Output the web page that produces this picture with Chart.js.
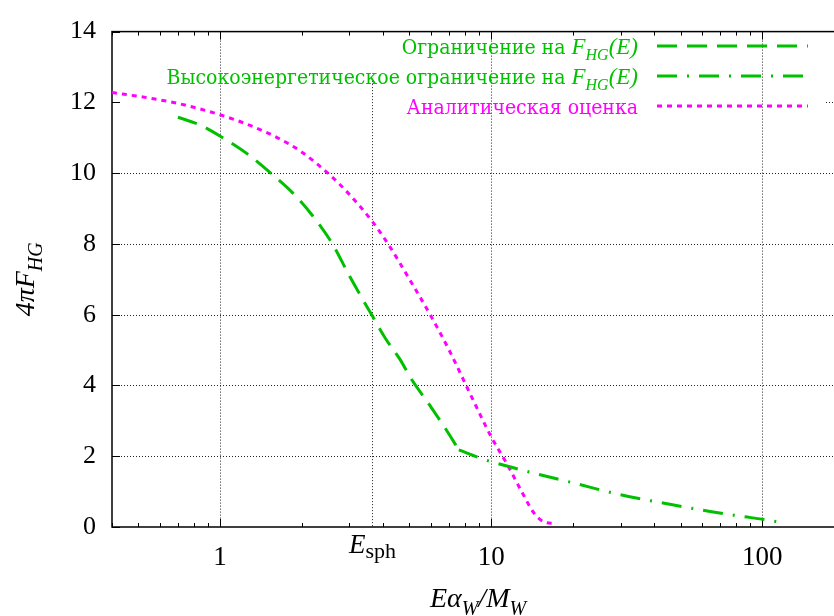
<!DOCTYPE html>
<html>
<head>
<meta charset="utf-8">
<script src="https://cdn.jsdelivr.net/npm/chart.js@4.4.1/dist/chart.umd.min.js"></script>
<style>
    html, body { margin: 0; padding: 0; overflow: hidden; background: #fff; }
    #chart { display: block; }
</style>
</head>
<body>
<canvas id="chart" width="846" height="616"></canvas>
<script>
// Ограничение на F_HG(E) (штрих)
var boundX = [0.7, 0.85, 1.0, 1.27, 1.55, 1.85, 2.2, 2.6, 3.0, 3.65, 4.1, 4.6, 5.1, 5.9, 6.8, 7.6];
var boundY = [11.58, 11.35, 11.05, 10.53, 9.98, 9.45, 8.79, 8.0, 7.1, 5.96, 5.3, 4.75, 4.16, 3.47, 2.77, 2.18];

// Высокоэнергетическое ограничение (штрих-пунктир)
var highX = [7.6, 9.4, 12, 14.7, 20, 30, 45, 65, 84, 100, 122];
var highY = [2.18, 1.91, 1.68, 1.50, 1.25, 0.91, 0.65, 0.43, 0.30, 0.22, 0.11];

// Аналитическая оценка (пунктир)
var anaX = [0.4, 0.55, 0.7, 1.0, 1.3, 1.65, 2.0, 2.6, 3.0, 3.65, 4.2, 5.0, 6.0, 7.0, 8.1, 9.0, 10, 11.4, 12.9, 14.4, 15.7, 17.1];
var anaY = [12.28, 12.12, 11.97, 11.65, 11.34, 10.98, 10.6, 9.88, 9.4, 8.63, 7.96, 7.0, 5.96, 5.0, 3.99, 3.26, 2.55, 1.8, 1.03, 0.39, 0.14, 0.1];

var xTicks = [1, 10, 100];
var yTicks = [0, 2, 4, 6, 8, 10, 12, 14];
var eSph = 3.65;
var eSphTop = 12.6;

var GREEN = '#00c000';
var MAGENTA = '#ff00ff';
var FONT = '"Liberation Serif", serif';
var CYR = '"DejaVu Serif", serif';

function pts(xs, ys) {
    return xs.map(function (x, i) { return { x: x, y: ys[i] }; });
}

function setFont(ctx, p) {
    ctx.font = (p[2] ? 'italic ' : '') + p[1] + 'px ' + (p[4] || FONT);
    ctx.fontStretch = p[4] ? 'condensed' : 'normal';
}

// text made of pieces: [text, size, italic, dy, family]
function drawParts(ctx, parts, x, y, align) {
    var total = 0;
    var widths = parts.map(function (p) {
        setFont(ctx, p);
        var w = ctx.measureText(p[0]).width;
        total += w;
        return w;
    });
    var cx = align === 'right' ? x - total : (align === 'center' ? x - total / 2 : x);
    ctx.textBaseline = 'alphabetic';
    ctx.textAlign = 'left';
    parts.forEach(function (p, i) {
        setFont(ctx, p);
        ctx.fillText(p[0], cx, y + p[3]);
        cx += widths[i];
    });
    ctx.fontStretch = 'normal';
}

function line(ctx, x1, y1, x2, y2) {
    ctx.beginPath();
    ctx.moveTo(x1, y1);
    ctx.lineTo(x2, y2);
    ctx.stroke();
}

var legendRows = [
    [['Ограничение на ', 21, false, 0, CYR], ['F', 23, true, 0], ['HG', 16, true, 6], ['(E)', 23, true, 0]],
    [['Высокоэнергетическое ограничение на ', 21, false, 0, CYR], ['F', 23, true, 0], ['HG', 16, true, 6], ['(E)', 23, true, 0]],
    [['Аналитическая оценка', 21, false, 0, CYR]]
];

var decor = {
    id: 'decor',
    beforeDatasetsDraw: function (chart) {
        var ctx = chart.ctx, a = chart.chartArea;
        var sx = chart.scales.x, sy = chart.scales.y;
        ctx.save();

        // horizontal grid
        ctx.lineWidth = 1;
        ctx.strokeStyle = '#222';
        ctx.setLineDash([1, 2]);
        yTicks.forEach(function (v) {
            if (v <= 0 || v >= 14) return;
            var py = Math.round(sy.getPixelForValue(v)) + 0.5;
            line(ctx, a.left, py, a.right, py);
        });

        // opaque key box hides the grid behind it
        ctx.fillStyle = '#fff';
        ctx.fillRect(a.left + 1, 30, 826 - a.left - 1, 90);

        // vertical grid
        xTicks.forEach(function (v) {
            var px = Math.round(sx.getPixelForValue(v)) + 0.5;
            line(ctx, px, a.top, px, a.bottom);
        });
        var pe = Math.round(sx.getPixelForValue(eSph)) + 0.5;
        line(ctx, pe, sy.getPixelForValue(eSphTop), pe, a.bottom);

        // ticks (inside)
        ctx.setLineDash([]);
        ctx.strokeStyle = '#000';
        [0.1, 1, 10, 100].forEach(function (d) {
            for (var k = 1; k <= 9; k++) {
                var v = k * d;
                if (v < sx.min || v > sx.max) continue;
                var px = Math.round(sx.getPixelForValue(v)) + 0.5;
                var len = k === 1 ? 8 : 4;
                line(ctx, px, a.bottom, px, a.bottom - len);
                line(ctx, px, a.top, px, a.top + len);
            }
        });
        yTicks.forEach(function (v) {
            var py = Math.round(sy.getPixelForValue(v)) + 0.5;
            line(ctx, a.left, py, a.left + 8, py);
            line(ctx, a.right, py, a.right - 8, py);
        });

        // frame
        ctx.lineWidth = 1.5;
        ctx.strokeRect(a.left, a.top, a.right - a.left, a.bottom - a.top);
        ctx.restore();
    },
    afterDraw: function (chart) {
        var ctx = chart.ctx, a = chart.chartArea;
        var sx = chart.scales.x;
        ctx.save();

        // legend
        var rowY = [46, 76, 106];
        chart.data.datasets.forEach(function (ds, i) {
            ctx.fillStyle = ds.borderColor;
            drawParts(ctx, legendRows[i], 638, rowY[i] + 7.5, 'right');
            ctx.strokeStyle = ds.borderColor;
            ctx.lineWidth = ds.borderWidth;
            ctx.setLineDash(ds.borderDash);
            line(ctx, 657, rowY[i], 808, rowY[i]);
        });
        ctx.setLineDash([]);

        // E_sph label under its grid line
        ctx.fillStyle = '#000';
        drawParts(ctx, [['E', 27, true, 0], ['sph', 22, false, 5]], sx.getPixelForValue(eSph), 553, 'center');

        // x title
        drawParts(ctx, [['E', 28, true, 0], ['α', 28, true, 0], ['W', 20, true, 8], ['/', 28, true, 0],
                        ['M', 28, true, 0], ['W', 20, true, 8]], (a.left + a.right) / 2, 607, 'center');

        // y title
        ctx.translate(34, (a.top + a.bottom) / 2);
        ctx.rotate(-Math.PI / 2);
        drawParts(ctx, [['4π', 28, true, 0], ['F', 28, true, 0], ['HG', 20, true, 8]], 0, 0, 'center');
        ctx.restore();
    }
};

var ctx = document.getElementById('chart').getContext('2d');
new Chart(ctx, {
    type: 'scatter',
    data: {
        datasets: [
            { label: 'Ограничение на F_HG(E)', data: pts(boundX, boundY), showLine: true, borderColor: GREEN,
              borderWidth: 3, borderDash: [20, 10], pointRadius: 0, cubicInterpolationMode: 'monotone' },
            { label: 'Высокоэнергетическое ограничение на F_HG(E)', data: pts(highX, highY), showLine: true, borderColor: GREEN,
              borderWidth: 3, borderDash: [20, 10, 2, 10], pointRadius: 0, cubicInterpolationMode: 'monotone' },
            { label: 'Аналитическая оценка', data: pts(anaX, anaY), showLine: true, borderColor: MAGENTA,
              borderWidth: 3, borderDash: [5, 5], pointRadius: 0, cubicInterpolationMode: 'monotone' }
        ]
    },
    options: {
        responsive: false,
        animation: false,
        layout: { padding: { top: 22, right: 2, left: 0, bottom: 0 } },
        plugins: { legend: { display: false }, tooltip: { enabled: false } },
        scales: {
            x: {
                type: 'logarithmic', min: 0.4, max: 200,
                afterBuildTicks: function (s) { s.ticks = xTicks.map(function (v) { return { value: v }; }); },
                afterFit: function (s) { s.height = 89; },
                grid: { display: false, drawTicks: false },
                border: { display: false },
                ticks: { font: { family: FONT, size: 27 }, color: '#000', padding: 15, maxRotation: 0, autoSkip: false,
                         callback: function (v) { return String(v); } }
            },
            y: {
                min: 0, max: 14,
                afterBuildTicks: function (s) { s.ticks = yTicks.map(function (v) { return { value: v }; }); },
                afterFit: function (s) { s.width = 112; },
                grid: { display: false, drawTicks: false },
                border: { display: false },
                ticks: { font: { family: FONT, size: 26 }, color: '#000', padding: 16 }
            }
        }
    },
    plugins: [decor]
});
</script>
</body>
</html>
